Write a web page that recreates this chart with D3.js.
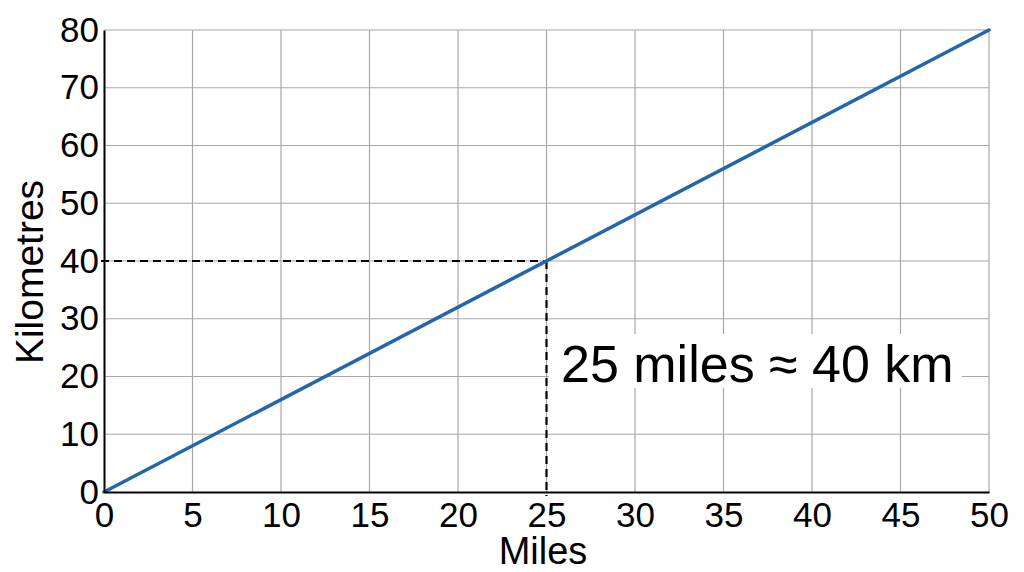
<!DOCTYPE html>
<html>
<head>
<meta charset="utf-8">
<script src="https://cdn.jsdelivr.net/npm/d3@7"></script>
<style>
  body { margin: 0; background: #fff; }
  text { font-family: "Liberation Sans", Arial, sans-serif; fill: #000; }
</style>
</head>
<body>
<script>
// Størrelse på svg
const w = 1024;
const h = 572;

// Data: miles -> kilometres
const miles = [0, 50];
const km = [0, 80];
const xTicks = [0, 5, 10, 15, 20, 25, 30, 35, 40, 45, 50];
const yTicks = [0, 10, 20, 30, 40, 50, 60, 70, 80];
const markMiles = 25;
const markKm = 40;
const note = "25 miles \u2248 40 km";

const svg = d3.select("body").append("svg").attr("width", w).attr("height", h);

const xScale = d3.scaleLinear().domain([0, 50]).range([104, 989]);
const yScale = d3.scaleLinear().domain([0, 80]).range([492, 30]);

// Gitterlinjer
svg.append("g")
  .selectAll("line")
  .data(xTicks.slice(1))
  .enter()
  .append("line")
  .attr("x1", d => xScale(d))
  .attr("x2", d => xScale(d))
  .attr("y1", yScale(0))
  .attr("y2", yScale(80))
  .attr("stroke", "#a8a8a8")
  .attr("stroke-width", 1.2);

svg.append("g")
  .selectAll("line")
  .data(yTicks.slice(1))
  .enter()
  .append("line")
  .attr("x1", xScale(0))
  .attr("x2", xScale(50))
  .attr("y1", d => yScale(d))
  .attr("y2", d => yScale(d))
  .attr("stroke", "#a8a8a8")
  .attr("stroke-width", 1.2);

// Stiplede linjer til 25 miles / 40 km
svg.append("line")
  .attr("x1", xScale(0) - 3)
  .attr("x2", xScale(markMiles))
  .attr("y1", yScale(markKm))
  .attr("y2", yScale(markKm))
  .attr("stroke", "#000")
  .attr("stroke-width", 2.2)
  .attr("stroke-dasharray", "8,5");

svg.append("line")
  .attr("x1", xScale(markMiles))
  .attr("x2", xScale(markMiles))
  .attr("y1", yScale(markKm))
  .attr("y2", yScale(0) + 4)
  .attr("stroke", "#000")
  .attr("stroke-width", 2.2)
  .attr("stroke-dasharray", "8,5");

// Selve linjen
const line = d3.line()
  .x(d => xScale(d[0]))
  .y(d => yScale(d[1]));

svg.append("path")
  .datum(d3.zip(miles, km))
  .attr("d", line)
  .attr("fill", "none")
  .attr("stroke", "#2466a6")
  .attr("stroke-width", 3.5)
  .attr("stroke-linecap", "round");

// Akser
const xAxis = d3.axisBottom(xScale).tickValues(xTicks).tickSize(0).tickPadding(10);
const yAxis = d3.axisLeft(yScale).tickValues(yTicks).tickSize(0).tickPadding(5);

const gx = svg.append("g")
  .attr("transform", "translate(0," + yScale(0) + ")")
  .call(xAxis);
gx.select(".domain").attr("stroke", "#000").attr("stroke-width", 2);
gx.selectAll("text")
  .attr("font-size", "35px")
  .attr("fill", "#000");

const gy = svg.append("g")
  .attr("transform", "translate(" + xScale(0) + ",0)")
  .call(yAxis);
gy.select(".domain").attr("stroke", "#000").attr("stroke-width", 2);
gy.selectAll("text")
  .attr("font-size", "35px")
  .attr("fill", "#000");

// Aksetitler
svg.append("text")
  .attr("x", 543)
  .attr("y", 564)
  .attr("text-anchor", "middle")
  .attr("font-size", "38px")
  .text("Miles");

svg.append("text")
  .attr("transform", "translate(43,272) rotate(-90)")
  .attr("text-anchor", "middle")
  .attr("font-size", "39px")
  .text("Kilometres");

// Annotation med hvid baggrund
const noteG = svg.append("g");
const noteBg = noteG.append("rect").attr("fill", "#fff");
const noteText = noteG.append("text")
  .attr("x", 561)
  .attr("y", 382)
  .attr("font-size", "52px")
  .text(note);
const bb = noteText.node().getBBox();
noteBg
  .attr("x", bb.x - 12)
  .attr("y", 334)
  .attr("width", bb.width + 20)
  .attr("height", 54);
</script>
</body>
</html>
